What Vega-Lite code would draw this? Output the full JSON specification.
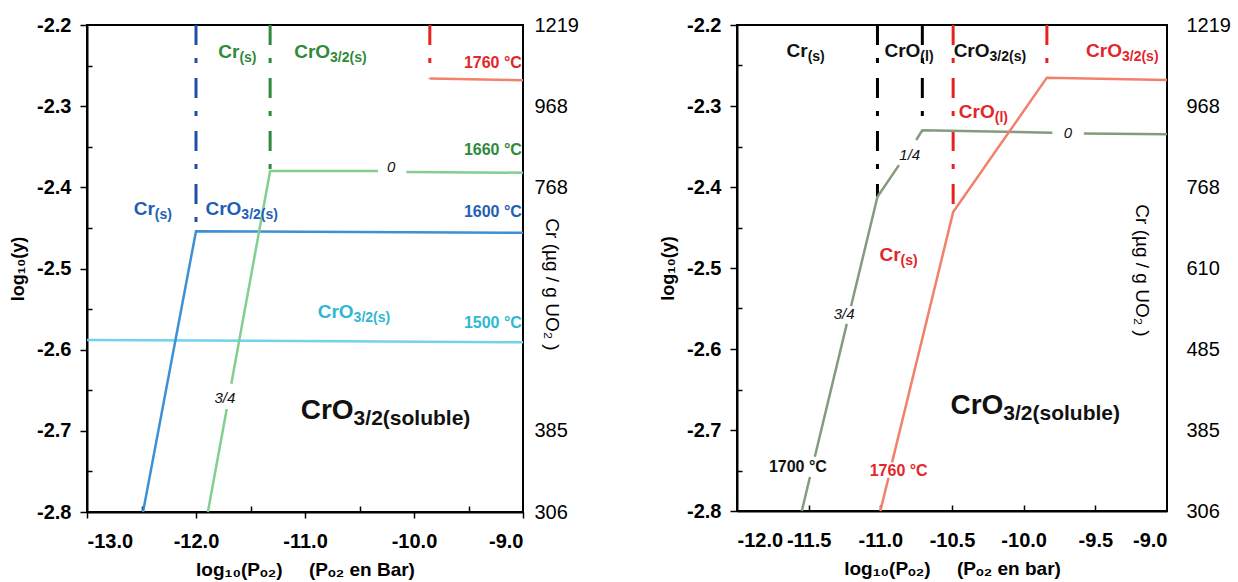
{
  "$schema": "https://vega.github.io/schema/vega-lite/v6.json",
  "background": "white",
  "padding": {"left": 8, "top": 14, "right": 5, "bottom": 5},
  "spacing": 78,
  "config": {
    "view": {"stroke": "#000", "strokeWidth": 2},
    "axis": {"grid": false},
    "text": {"font": "Liberation Sans"}
  },
  "datasets": {
    "L_bounds": [
      {"T": "1600", "x": -12.0, "y1": -2.2, "y2": -2.455},
      {"T": "1660", "x": -11.32, "y1": -2.2, "y2": -2.38},
      {"T": "1760", "x": -9.855, "y1": -2.2, "y2": -2.266}
    ],
    "L_curves": [
      {"T": "1500", "seg": "a", "o": 1, "x": -13.0, "y": -2.588},
      {"T": "1500", "seg": "a", "o": 2, "x": -9.0, "y": -2.591},
      {"T": "1600", "seg": "b", "o": 1, "x": -12.486, "y": -2.8},
      {"T": "1600", "seg": "b", "o": 2, "x": -12.0, "y": -2.454},
      {"T": "1600", "seg": "b", "o": 3, "x": -9.0, "y": -2.456},
      {"T": "1660", "seg": "c", "o": 1, "x": -11.891, "y": -2.8},
      {"T": "1660", "seg": "c", "o": 2, "x": -11.718, "y": -2.673},
      {"T": "1660", "seg": "d", "o": 1, "x": -11.676, "y": -2.642},
      {"T": "1660", "seg": "d", "o": 2, "x": -11.32, "y": -2.38},
      {"T": "1660", "seg": "d", "o": 3, "x": -10.33, "y": -2.38},
      {"T": "1660", "seg": "e", "o": 1, "x": -10.07, "y": -2.381},
      {"T": "1660", "seg": "e", "o": 2, "x": -9.0, "y": -2.382},
      {"T": "1760", "seg": "f", "o": 1, "x": -9.855, "y": -2.266},
      {"T": "1760", "seg": "f", "o": 2, "x": -9.0, "y": -2.268}
    ],
    "L_sub": [
      {"T": "1660", "x": -11.602, "y": -2.233, "m": "Cr", "sub": "(s)"},
      {"T": "1660", "x": -10.77, "y": -2.233, "m": "CrO", "sub": "3/2(s)"},
      {"T": "1600", "x": -12.378, "y": -2.427, "m": "Cr", "sub": "(s)"},
      {"T": "1600", "x": -11.584, "y": -2.427, "m": "CrO", "sub": "3/2(s)"},
      {"T": "1500", "x": -10.554, "y": -2.554, "m": "CrO", "sub": "3/2(s)"}
    ],
    "L_big": [
      {"x": -10.554, "y": -2.675, "m": "CrO", "sub": "3/2(soluble)"}
    ],
    "L_temp": [
      {"T": "1760", "x": -9.01, "y": -2.247, "t": "1760 °C"},
      {"T": "1660", "x": -9.01, "y": -2.354, "t": "1660 °C"},
      {"T": "1600", "x": -9.01, "y": -2.431, "t": "1600 °C"},
      {"T": "1500", "x": -9.01, "y": -2.567, "t": "1500 °C"}
    ],
    "L_slope": [
      {"x": -10.209, "y": -2.375, "t": "0"},
      {"x": -11.735, "y": -2.659, "t": "3/4"}
    ],
    "R_bounds": [
      {"T": "1700", "x": -11.02, "y1": -2.2, "y2": -2.412},
      {"T": "1700", "x": -10.707, "y1": -2.2, "y2": -2.33},
      {"T": "1760", "x": -10.492, "y1": -2.2, "y2": -2.431},
      {"T": "1760", "x": -9.838, "y1": -2.2, "y2": -2.265}
    ],
    "R_curves": [
      {"T": "1700", "seg": "a", "o": 1, "x": -11.548, "y": -2.8},
      {"T": "1700", "seg": "a", "o": 2, "x": -11.491, "y": -2.758},
      {"T": "1700", "seg": "b", "o": 1, "x": -11.457, "y": -2.733},
      {"T": "1700", "seg": "b", "o": 2, "x": -11.234, "y": -2.569},
      {"T": "1700", "seg": "c", "o": 1, "x": -11.204, "y": -2.547},
      {"T": "1700", "seg": "c", "o": 2, "x": -11.02, "y": -2.412},
      {"T": "1700", "seg": "c", "o": 3, "x": -10.87, "y": -2.373},
      {"T": "1700", "seg": "d", "o": 1, "x": -10.75, "y": -2.342},
      {"T": "1700", "seg": "d", "o": 2, "x": -10.707, "y": -2.33},
      {"T": "1700", "seg": "d", "o": 3, "x": -9.8, "y": -2.333},
      {"T": "1700", "seg": "e", "o": 1, "x": -9.58, "y": -2.334},
      {"T": "1700", "seg": "e", "o": 2, "x": -9.0, "y": -2.335},
      {"T": "1760", "seg": "f", "o": 1, "x": -11.0, "y": -2.8},
      {"T": "1760", "seg": "f", "o": 2, "x": -10.943, "y": -2.759},
      {"T": "1760", "seg": "g", "o": 1, "x": -10.918, "y": -2.74},
      {"T": "1760", "seg": "g", "o": 2, "x": -10.492, "y": -2.431},
      {"T": "1760", "seg": "g", "o": 3, "x": -9.838, "y": -2.265},
      {"T": "1760", "seg": "g", "o": 4, "x": -9.0, "y": -2.268}
    ],
    "R_sub": [
      {"T": "1700", "x": -11.507, "y": -2.232, "m": "Cr", "sub": "(s)"},
      {"T": "1700", "x": -10.721, "y": -2.232, "m": "CrO", "sub": "(l)"},
      {"T": "1700", "x": -10.238, "y": -2.232, "m": "CrO", "sub": "3/2(s)"},
      {"T": "1760", "x": -9.314, "y": -2.232, "m": "CrO", "sub": "3/2(s)"},
      {"T": "1760", "x": -10.202, "y": -2.307, "m": "CrO", "sub": "(l)"},
      {"T": "1760", "x": -10.859, "y": -2.484, "m": "Cr", "sub": "(s)"}
    ],
    "R_big": [
      {"x": -10.142, "y": -2.67, "m": "CrO", "sub": "3/2(soluble)"}
    ],
    "R_temp": [
      {"T": "1700", "x": -11.575, "y": -2.746, "t": "1700 °C"},
      {"T": "1760", "x": -10.872, "y": -2.751, "t": "1760 °C"}
    ],
    "R_slope": [
      {"x": -9.692, "y": -2.333, "t": "0"},
      {"x": -10.795, "y": -2.361, "t": "1/4"},
      {"x": -11.253, "y": -2.557, "t": "3/4"}
    ]
  },
  "hconcat": [
    {
      "width": 436,
      "height": 487,
      "resolve": {"axis": {"x": "independent", "y": "independent"}, "scale": {"color": "independent"}},
      "layer": [
        {
          "data": {"name": "L_bounds"},
          "mark": {"type": "rule", "strokeWidth": 3, "strokeDash": [20, 13, 5, 15]},
          "encoding": {
            "x": {"field": "x", "type": "quantitative", "scale": {"domain": [-13, -9], "nice": false, "zero": false},
              "axis": {"orient": "bottom", "values": [-13, -12, -11, -10, -9], "labelExpr": "replace(format(datum.value, '.1f'), '−', '-')", "labelFont": "Liberation Sans", "labelFontSize": 20, "labelFontWeight": "bold", "labelColor": "#000", "labelPadding": 13, "tickColor": "#000", "tickSize": 6, "tickWidth": 1.5, "domainColor": "#000", "domainWidth": 2, "title": "log₁₀(Pₒ₂)\u00a0\u00a0\u00a0\u00a0\u00a0(Pₒ₂ en Bar)", "titleFont": "Liberation Sans", "titleFontSize": 19, "titleFontWeight": "bold", "titleColor": "#000", "titlePadding": 9}},
            "y": {"field": "y1", "type": "quantitative", "scale": {"domain": [-2.8, -2.2], "nice": false, "zero": false},
              "axis": {"orient": "left", "values": [-2.8, -2.7, -2.6, -2.5, -2.4, -2.3, -2.2], "labelExpr": "replace(format(datum.value, '.1f'), '−', '-')", "labelFont": "Liberation Sans", "labelFontSize": 20, "labelFontWeight": "bold", "labelColor": "#000", "labelPadding": 9, "tickColor": "#000", "tickSize": 7, "tickWidth": 1.5, "domainColor": "#000", "domainWidth": 2, "title": "log₁₀(y)", "titleFont": "Liberation Sans", "titleFontSize": 18, "titleFontWeight": "bold", "titleColor": "#000", "titlePadding": 9}},
            "y2": {"field": "y2"},
            "color": {"field": "T", "type": "nominal", "scale": {"domain": ["1600", "1660", "1760"], "range": ["#1f4fa6", "#2e8a3c", "#e8231f"]}, "legend": null}
          }
        },
        {
          "data": {"name": "L_curves"},
          "mark": {"type": "line", "strokeWidth": 2.5},
          "encoding": {
            "x": {"field": "x", "type": "quantitative", "axis": {"orient": "bottom", "offset": -6, "values": [-12.5, -11.5, -10.5, -9.5], "labels": false, "domain": false, "tickSize": 6, "tickColor": "#000", "tickWidth": 1.5, "title": null}},
            "y": {"field": "y", "type": "quantitative", "axis": {"orient": "left", "offset": -5, "values": [-2.75, -2.65, -2.55, -2.45, -2.35, -2.25], "labels": false, "domain": false, "tickSize": 5, "tickColor": "#000", "tickWidth": 1.5, "title": null}},
            "detail": {"field": "seg"},
            "order": {"field": "o", "type": "quantitative"},
            "color": {"field": "T", "type": "nominal", "scale": {"domain": ["1500", "1600", "1660", "1760"], "range": ["#6fd4ec", "#3d8fd6", "#82cf90", "#f2826e"]}, "legend": null}
          }
        },
        {
          "data": {"name": "L_sub"},
          "mark": {"type": "text", "align": "right", "baseline": "middle", "fontSize": 19, "fontWeight": "bold"},
          "encoding": {
            "x": {"field": "x", "type": "quantitative", "axis": null},
            "y": {"field": "y", "type": "quantitative",
              "axis": {"orient": "right", "values": [-2.8, -2.7, -2.6, -2.5, -2.4, -2.3, -2.2], "ticks": false, "domain": false, "labelExpr": "['1219','968','768','','','385','306'][round((-2.2 - datum.value) * 10)]", "labelFont": "Liberation Sans", "labelFontSize": 20, "labelColor": "#000", "labelPadding": 11, "title": "Cr (µg / g UO₂ )", "titleFont": "Liberation Sans", "titleFontSize": 19, "titleFontWeight": "normal", "titleColor": "#000", "titleAngle": 90, "titleX": 28, "titleY": 259, "titleAlign": "center", "titleBaseline": "middle"}},
            "text": {"field": "m"},
            "color": {"field": "T", "type": "nominal", "scale": {"domain": ["1500", "1600", "1660"], "range": ["#2fb8d2", "#1e5fb4", "#2f8a3a"]}, "legend": null}
          }
        },
        {
          "data": {"name": "L_sub"},
          "mark": {"type": "text", "align": "left", "baseline": "middle", "fontSize": 14, "fontWeight": "bold", "dy": 6},
          "encoding": {
            "x": {"field": "x", "type": "quantitative", "axis": null},
            "y": {"field": "y", "type": "quantitative", "axis": null},
            "text": {"field": "sub"},
            "color": {"field": "T", "type": "nominal", "scale": {"domain": ["1500", "1600", "1660"], "range": ["#2fb8d2", "#1e5fb4", "#2f8a3a"]}, "legend": null}
          }
        },
        {
          "data": {"name": "L_big"},
          "mark": {"type": "text", "align": "right", "baseline": "middle", "fontSize": 28, "fontWeight": "bold", "color": "#111"},
          "encoding": {
            "x": {"field": "x", "type": "quantitative", "axis": null},
            "y": {"field": "y", "type": "quantitative", "axis": null},
            "text": {"field": "m"}
          }
        },
        {
          "data": {"name": "L_big"},
          "mark": {"type": "text", "align": "left", "baseline": "middle", "fontSize": 21, "fontWeight": "bold", "color": "#111", "dy": 8},
          "encoding": {
            "x": {"field": "x", "type": "quantitative", "axis": null},
            "y": {"field": "y", "type": "quantitative", "axis": null},
            "text": {"field": "sub"}
          }
        },
        {
          "data": {"name": "L_temp"},
          "mark": {"type": "text", "align": "right", "baseline": "middle", "fontSize": 16, "fontWeight": "bold"},
          "encoding": {
            "x": {"field": "x", "type": "quantitative", "axis": null},
            "y": {"field": "y", "type": "quantitative", "axis": null},
            "text": {"field": "t"},
            "color": {"field": "T", "type": "nominal", "scale": {"domain": ["1500", "1600", "1660", "1760"], "range": ["#2fb8d2", "#1e5fb4", "#2f8a3a", "#e3262a"]}, "legend": null}
          }
        },
        {
          "data": {"name": "L_slope"},
          "mark": {"type": "text", "align": "center", "baseline": "middle", "fontSize": 15, "fontStyle": "italic", "color": "#111"},
          "encoding": {
            "x": {"field": "x", "type": "quantitative", "axis": null},
            "y": {"field": "y", "type": "quantitative", "axis": null},
            "text": {"field": "t"}
          }
        }
      ]
    },
    {
      "width": 430,
      "height": 486,
      "resolve": {"axis": {"x": "independent", "y": "independent"}, "scale": {"color": "independent"}},
      "layer": [
        {
          "data": {"name": "R_bounds"},
          "mark": {"type": "rule", "strokeWidth": 3, "strokeDash": [20, 13, 5, 15]},
          "encoding": {
            "x": {"field": "x", "type": "quantitative", "scale": {"domain": [-12, -9], "nice": false, "zero": false},
              "axis": {"orient": "bottom", "values": [-12, -11.5, -11, -10.5, -10, -9.5, -9], "labelExpr": "replace(format(datum.value, '.1f'), '−', '-')", "labelFont": "Liberation Sans", "labelFontSize": 20, "labelFontWeight": "bold", "labelColor": "#000", "labelPadding": 19, "ticks": false, "domainColor": "#000", "domainWidth": 2, "title": "log₁₀(Pₒ₂)\u00a0\u00a0\u00a0\u00a0\u00a0(Pₒ₂ en bar)", "titleFont": "Liberation Sans", "titleFontSize": 19, "titleFontWeight": "bold", "titleColor": "#000", "titlePadding": 9}},
            "y": {"field": "y1", "type": "quantitative", "scale": {"domain": [-2.8, -2.2], "nice": false, "zero": false},
              "axis": {"orient": "left", "values": [-2.8, -2.7, -2.6, -2.5, -2.4, -2.3, -2.2], "labelExpr": "replace(format(datum.value, '.1f'), '−', '-')", "labelFont": "Liberation Sans", "labelFontSize": 20, "labelFontWeight": "bold", "labelColor": "#000", "labelPadding": 9, "tickColor": "#000", "tickSize": 7, "tickWidth": 1.5, "domainColor": "#000", "domainWidth": 2, "title": "log₁₀(y)", "titleFont": "Liberation Sans", "titleFontSize": 18, "titleFontWeight": "bold", "titleColor": "#000", "titlePadding": 9}},
            "y2": {"field": "y2"},
            "color": {"field": "T", "type": "nominal", "scale": {"domain": ["1700", "1760"], "range": ["#000000", "#e8231f"]}, "legend": null}
          }
        },
        {
          "data": {"name": "R_curves"},
          "mark": {"type": "line", "strokeWidth": 2.5},
          "encoding": {
            "x": {"field": "x", "type": "quantitative", "axis": {"orient": "bottom", "offset": -6, "values": [-11.5, -11, -10.5, -10, -9.5], "labels": false, "domain": false, "tickSize": 6, "tickColor": "#000", "tickWidth": 1.5, "title": null}},
            "y": {"field": "y", "type": "quantitative", "axis": {"orient": "left", "offset": -5, "values": [-2.75, -2.65, -2.55, -2.45, -2.35, -2.25], "labels": false, "domain": false, "tickSize": 5, "tickColor": "#000", "tickWidth": 1.5, "title": null}},
            "detail": {"field": "seg"},
            "order": {"field": "o", "type": "quantitative"},
            "color": {"field": "T", "type": "nominal", "scale": {"domain": ["1700", "1760"], "range": ["#859b7d", "#f2806a"]}, "legend": null}
          }
        },
        {
          "data": {"name": "R_sub"},
          "mark": {"type": "text", "align": "right", "baseline": "middle", "fontSize": 19, "fontWeight": "bold"},
          "encoding": {
            "x": {"field": "x", "type": "quantitative", "axis": null},
            "y": {"field": "y", "type": "quantitative",
              "axis": {"orient": "right", "values": [-2.8, -2.7, -2.6, -2.5, -2.4, -2.3, -2.2], "ticks": false, "domain": false, "labelExpr": "['1219','968','768','610','485','385','306'][round((-2.2 - datum.value) * 10)]", "labelFont": "Liberation Sans", "labelFontSize": 20, "labelColor": "#000", "labelPadding": 19, "title": "Cr (µg / g UO₂ )", "titleFont": "Liberation Sans", "titleFontSize": 19, "titleFontWeight": "normal", "titleColor": "#000", "titleAngle": 90, "titleX": -26, "titleY": 245, "titleAlign": "center", "titleBaseline": "middle"}},
            "text": {"field": "m"},
            "color": {"field": "T", "type": "nominal", "scale": {"domain": ["1700", "1760"], "range": ["#111111", "#e3262a"]}, "legend": null}
          }
        },
        {
          "data": {"name": "R_sub"},
          "mark": {"type": "text", "align": "left", "baseline": "middle", "fontSize": 14, "fontWeight": "bold", "dy": 6},
          "encoding": {
            "x": {"field": "x", "type": "quantitative", "axis": null},
            "y": {"field": "y", "type": "quantitative", "axis": null},
            "text": {"field": "sub"},
            "color": {"field": "T", "type": "nominal", "scale": {"domain": ["1700", "1760"], "range": ["#111111", "#e3262a"]}, "legend": null}
          }
        },
        {
          "data": {"name": "R_big"},
          "mark": {"type": "text", "align": "right", "baseline": "middle", "fontSize": 28, "fontWeight": "bold", "color": "#111"},
          "encoding": {
            "x": {"field": "x", "type": "quantitative", "axis": null},
            "y": {"field": "y", "type": "quantitative", "axis": null},
            "text": {"field": "m"}
          }
        },
        {
          "data": {"name": "R_big"},
          "mark": {"type": "text", "align": "left", "baseline": "middle", "fontSize": 21, "fontWeight": "bold", "color": "#111", "dy": 8},
          "encoding": {
            "x": {"field": "x", "type": "quantitative", "axis": null},
            "y": {"field": "y", "type": "quantitative", "axis": null},
            "text": {"field": "sub"}
          }
        },
        {
          "data": {"name": "R_temp"},
          "mark": {"type": "text", "align": "center", "baseline": "middle", "fontSize": 16, "fontWeight": "bold"},
          "encoding": {
            "x": {"field": "x", "type": "quantitative", "axis": null},
            "y": {"field": "y", "type": "quantitative", "axis": null},
            "text": {"field": "t"},
            "color": {"field": "T", "type": "nominal", "scale": {"domain": ["1700", "1760"], "range": ["#111111", "#e3262a"]}, "legend": null}
          }
        },
        {
          "data": {"name": "R_slope"},
          "mark": {"type": "text", "align": "center", "baseline": "middle", "fontSize": 15, "fontStyle": "italic", "color": "#111"},
          "encoding": {
            "x": {"field": "x", "type": "quantitative", "axis": null},
            "y": {"field": "y", "type": "quantitative", "axis": null},
            "text": {"field": "t"}
          }
        }
      ]
    }
  ]
}
